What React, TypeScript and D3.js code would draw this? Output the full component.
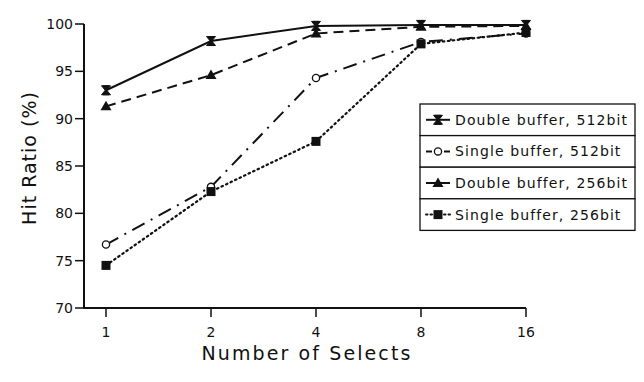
import React from "react";
import * as d3 from "d3";

const selects = [1, 2, 4, 8, 16];
const yTicks = [70, 75, 80, 85, 90, 95, 100];
const doubleBuf512 = [93.0, 98.2, 99.8, 99.9, 99.9];
const singleBuf512 = [76.7, 82.8, 94.3, 98.1, 99.0];
const doubleBuf256 = [91.3, 94.6, 99.0, 99.7, 99.8];
const singleBuf256 = [74.5, 82.3, 87.6, 97.9, 99.1];

const seriesNames = [
  "Double buffer, 512bit",
  "Single buffer, 512bit",
  "Double buffer, 256bit",
  "Single buffer, 256bit",
];

const series = [
  { name: seriesNames[0], values: doubleBuf512, dash: "", marker: "hourglass" },
  { name: seriesNames[1], values: singleBuf512, dash: "14,7,2,7", marker: "circle" },
  { name: seriesNames[2], values: doubleBuf256, dash: "10,6", marker: "triangle" },
  { name: seriesNames[3], values: singleBuf256, dash: "1.5,3.5", marker: "square" },
];

const FONT = "'DejaVu Sans', Verdana, sans-serif";

function Marker({ type, x, y }: { type: string; x: number; y: number }) {
  if (type === "hourglass") {
    return (
      <path
        d={`M${x - 4.5},${y - 4.5}H${x + 4.5}L${x - 3},${y + 4.5}H${x + 3}Z M${x - 4.5},${y + 4.5}H${x + 4.5}L${x - 3},${y - 4.5}H${x + 3}Z`}
        fill="#111"
        stroke="#111"
        strokeWidth={1}
      />
    );
  }
  if (type === "circle") {
    return <circle cx={x} cy={y} r={3.6} fill="white" stroke="#111" strokeWidth={1.3} />;
  }
  if (type === "triangle") {
    return <path d={`M${x},${y - 5.5}L${x + 5.5},${y + 4}L${x - 5.5},${y + 4}Z`} fill="#111" />;
  }
  return <rect x={x - 4.5} y={y - 4.5} width={9} height={9} fill="#111" />;
}

export default function App() {
  const W = 644;
  const H = 382;
  const x = d3.scaleLog().base(2).domain([1, 16]).range([106, 526]);
  const y = d3.scaleLinear().domain([70, 100]).range([308, 24]);
  const axisX0 = 84;

  const line = d3
    .line<number>()
    .x((_, i) => x(selects[i]))
    .y((d) => y(d));

  const legendX = 420;
  const legendY = 104;
  const rowH = 31.6;
  const legendW = 215;

  return (
    <svg
      width={W}
      height={H}
      style={{ position: "absolute", left: 0, top: 0, background: "white" }}
      fontFamily={FONT}
    >
      <rect width={W} height={H} fill="white" />
      {/* axes */}
      <line x1={axisX0} y1={y(100)} x2={axisX0} y2={y(70) + 1} stroke="#111" strokeWidth={2} />
      <line x1={axisX0} y1={y(70)} x2={x(16)} y2={y(70)} stroke="#111" strokeWidth={2} />
      {yTicks.map((t) => (
        <g key={t}>
          <line x1={axisX0 - 9} x2={axisX0} y1={y(t)} y2={y(t)} stroke="#111" strokeWidth={1.5} />
          <text x={axisX0 - 11} y={y(t)} dy="0.35em" textAnchor="end" fontSize={14} fill="#111">
            {t}
          </text>
        </g>
      ))}
      {selects.map((s) => (
        <g key={s}>
          <line x1={x(s)} x2={x(s)} y1={y(70)} y2={y(70) + 9} stroke="#111" strokeWidth={1.5} />
          <text x={x(s)} y={332} dy="0.35em" textAnchor="middle" fontSize={14} fill="#111">
            {s}
          </text>
        </g>
      ))}
      <text x={307} y={353} dy="0.35em" textAnchor="middle" fontSize={19} letterSpacing={2.1} fill="#111">
        Number of Selects
      </text>
      <text
        transform="translate(29,158) rotate(-90)"
        textAnchor="middle"
        dy="0.35em"
        fontSize={19}
        letterSpacing={1}
        fill="#111"
      >
        Hit Ratio (%)
      </text>
      {/* series */}
      {series.map((s) => (
        <g key={s.name}>
          <path
            d={line(s.values) || ""}
            fill="none"
            stroke="#111"
            strokeWidth={s.marker === "square" ? 2.2 : 2}
            strokeDasharray={s.dash || undefined}
            strokeLinecap={s.marker === "square" ? "round" : "butt"}
          />
          {s.values.map((v, i) => (
            <Marker key={i} type={s.marker} x={x(selects[i])} y={y(v)} />
          ))}
        </g>
      ))}
      {/* legend */}
      <g>
        {series.map((s, i) => {
          const ry = legendY + i * rowH;
          const cy = ry + rowH / 2;
          return (
            <g key={s.name}>
              <rect x={legendX} y={ry} width={legendW} height={rowH} fill="white" stroke="#111" strokeWidth={1.3} />
              <line
                x1={legendX + 6}
                x2={legendX + 30}
                y1={cy}
                y2={cy}
                stroke="#111"
                strokeWidth={2}
                strokeDasharray={s.marker === "square" ? "1.5,3" : s.marker === "circle" ? "6,3" : undefined}
                strokeLinecap={s.marker === "square" ? "round" : "butt"}
              />
              <Marker type={s.marker} x={legendX + 18} y={cy} />
              <text x={legendX + 35} y={cy} dy="0.35em" fontSize={14} letterSpacing={1.1} fill="#111">
                {s.name}
              </text>
            </g>
          );
        })}
      </g>
    </svg>
  );
}
